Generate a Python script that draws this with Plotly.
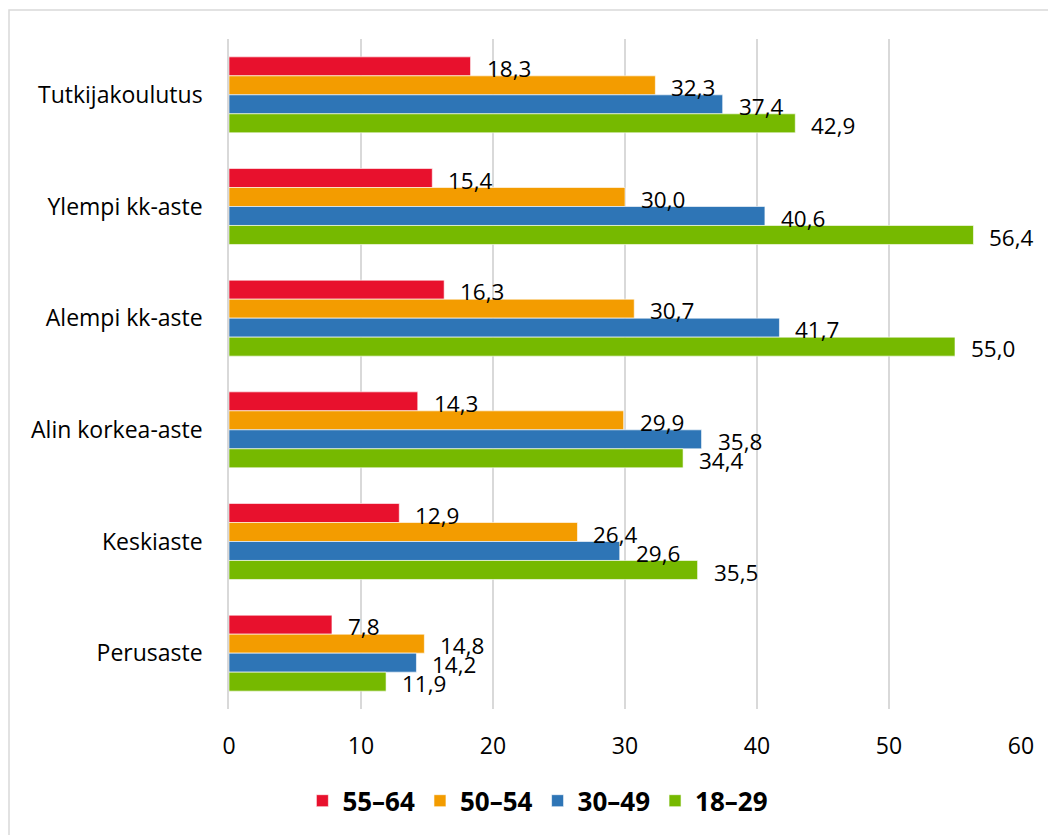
import plotly.graph_objects as go

categories = ["Tutkijakoulutus", "Ylempi kk-aste", "Alempi kk-aste",
              "Alin korkea-aste", "Keskiaste", "Perusaste"]
series_names = ["55–64", "50–54", "30–49", "18–29"]
v_55_64 = [18.3, 15.4, 16.3, 14.3, 12.9, 7.8]
v_50_54 = [32.3, 30.0, 30.7, 29.9, 26.4, 14.8]
v_30_49 = [37.4, 40.6, 41.7, 35.8, 29.6, 14.2]
v_18_29 = [42.9, 56.4, 55.0, 34.4, 35.5, 11.9]
x_ticks = [0, 10, 20, 30, 40, 50, 60]

series_values = [v_55_64, v_50_54, v_30_49, v_18_29]
colors = ["#E8112D", "#F39C00", "#2E75B6", "#76B900"]

FONT = "Open Sans"
W, H = 1056, 835
ML, MR, MT, MB = 221, 43, 31, 134
PW, PH = W - ML - MR, H - MT - MB

fig = go.Figure()
for name, vals, col in zip(series_names, series_values, colors):
    fig.add_trace(go.Bar(
        y=categories, x=vals, name=name, orientation="h",
        marker=dict(color=col, line=dict(color="rgba(255,255,255,0.6)", width=1)),
    ))

# value labels, placed right of bar end, slightly below bar centre
bar_px = 19
annotations = []
for i, vals in enumerate(series_values):
    for cat, v in zip(categories, vals):
        annotations.append(dict(
            x=v, y=cat, xref="x", yref="y",
            text=f"{v:.1f}".replace(".", ","),
            showarrow=False, xanchor="left", yanchor="middle",
            xshift=14, yshift=(1.5 - i) * bar_px - 2,
            font=dict(family=FONT, size=22.5, color="#000000"),
        ))

fig.update_layout(
    width=W, height=H,
    margin=dict(l=ML, r=MR, t=MT, b=MB),
    paper_bgcolor="white", plot_bgcolor="white",
    barmode="group", bargap=0.32, bargroupgap=0,
    font=dict(family=FONT, size=23, color="#000000"),
    showlegend=True,
    legend=dict(orientation="h", x=0.39, y=-0.137, xanchor="center", yanchor="middle",
                font=dict(family=FONT, size=26, color="#000000", weight="bold"),
                itemwidth=30, traceorder="normal"),
    annotations=annotations,
    shapes=[dict(type="rect", xref="paper", yref="paper",
                 x0=-(ML - 1) / PW, x1=2, y0=-1, y1=(PH + MT - 2) / PH,
                 line=dict(color="#D9D9D9", width=1.5), fillcolor="rgba(0,0,0,0)",
                 layer="below")],
)
fig.update_xaxes(range=[0, 60], tickvals=x_ticks, showgrid=True, gridcolor="#D9D9D9",
                 gridwidth=1.5, zeroline=False, showline=False, ticks="",
                 ticklabelstandoff=21, tickfont=dict(family=FONT, size=23))
fig.update_yaxes(autorange="reversed", showgrid=False, showline=True, linecolor="#D9D9D9",
                 linewidth=1.5, ticks="", ticklabelstandoff=20,
                 tickfont=dict(family=FONT, size=23))

fig.write_html("out.html")
